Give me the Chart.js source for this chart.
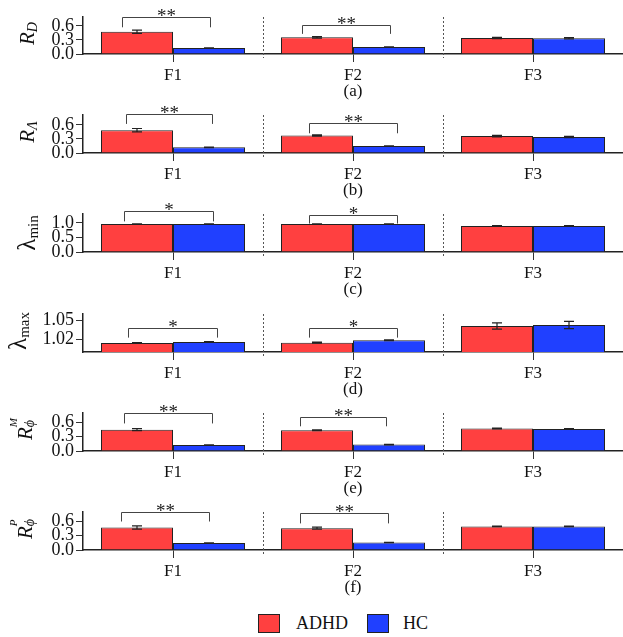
<!DOCTYPE html>
<html>
<head>
<meta charset="utf-8">
<script src="https://cdn.jsdelivr.net/npm/chart.js@4.4.1/dist/chart.umd.min.js"></script>
<style>
  html, body { margin: 0; padding: 0; background: #fff; }
  #wrap { position: relative; width: 623px; height: 637px; overflow: hidden; }
  #wrap canvas { position: absolute; left: 0; }
  .legend { position: absolute; top: 612px; font: 18px 'Liberation Serif', 'Times New Roman', serif; color: #111; }
  .box { position: absolute; width: 20px; height: 17px; border: 1px solid #222; }
  .lbl { position: absolute; top: 0; line-height: 22px; }
</style>
</head>
<body>
<div id="wrap">
  <div class="legend" style="left:258px"><div class="box" style="background:#ff4040;top:2px"></div><span class="lbl" style="left:38px">ADHD</span></div>
  <div class="legend" style="left:367px"><div class="box" style="background:#2040ff;top:2px"></div><span class="lbl" style="left:36px">HC</span></div>
</div>
<script>
const categories = ['F1', 'F2', 'F3'];
const groups = ['ADHD', 'HC'];

// (a) R_D
const rdAdhd = [0.474, 0.356, 0.342];
const rdHc = [0.126, 0.147, 0.335];
const rdAdhdErr = [0.035, 0.015, 0.015];
const rdHcErr = [0.004, 0.004, 0.015];
const rdTicks = [0, 0.3, 0.6];

// (b) R_Lambda
const rlAdhd = [0.487, 0.373, 0.36];
const rlHc = [0.12, 0.148, 0.34];
const rlAdhdErr = [0.035, 0.015, 0.015];
const rlHcErr = [0.004, 0.004, 0.015];
const rlTicks = [0, 0.3, 0.6];

// (c) lambda_min
const lminAdhd = [0.966, 0.966, 0.9];
const lminHc = [0.966, 0.966, 0.9];
const lminAdhdErr = [0.008, 0.008, 0.006];
const lminHcErr = [0.008, 0.008, 0.006];
const lminTicks = [0, 0.5, 1.0];

// (d) lambda_max
const lmaxAdhd = [1.0142, 1.0148, 1.041];
const lmaxHc = [1.0158, 1.0185, 1.0427];
const lmaxAdhdErr = [0.0008, 0.0008, 0.005];
const lmaxHcErr = [0.0005, 0.0006, 0.0058];
const lmaxTicks = [1.02, 1.05];

// (e) R_phi^M
const rmAdhd = [0.45, 0.437, 0.473];
const rmHc = [0.127, 0.135, 0.465];
const rmAdhdErr = [0.02, 0.01, 0.008];
const rmHcErr = [0.004, 0.004, 0.008];
const rmTicks = [0, 0.3, 0.6];

// (f) R_phi^P
const rpAdhd = [0.475, 0.46, 0.496];
const rpHc = [0.146, 0.16, 0.496];
const rpAdhdErr = [0.035, 0.02, 0.006];
const rpHcErr = [0.004, 0.003, 0.006];
const rpTicks = [0, 0.3, 0.6];

// significance brackets: category, left/right offset (in category widths), top and leg end values
const rdBrackets = [[0, -0.283, 0.206, 0.78, 0.57, '**'], [1, -0.281, 0.208, 0.61, 0.43, '**']];
const rlBrackets = [[0, -0.26, 0.218, 0.826, 0.62, '**'], [1, -0.246, 0.245, 0.635, 0.42, '**']];
const lminBrackets = [[0, -0.272, 0.222, 1.40, 1.055, '*'], [1, -0.247, 0.247, 1.29, 0.98, '*']];
const lmaxBrackets = [[0, -0.25, 0.244, 1.0385, 1.0227, '*'], [1, -0.247, 0.247, 1.0385, 1.0227, '*']];
const rmBrackets = [[0, -0.272, 0.217, 0.79, 0.58, '**'], [1, -0.297, 0.185, 0.72, 0.52, '**']];
const rpBrackets = [[0, -0.289, 0.2, 0.80, 0.60, '**'], [1, -0.292, 0.192, 0.77, 0.56, '**']];

const serif = "'Liberation Serif', 'Times New Roman', serif";
const red = '#ff4040';
const blue = '#2040ff';
const PAD = 24;
const XH = 48;

const panels = [
  { title: '(a)', adhd: rdAdhd, hc: rdHc, adhdErr: rdAdhdErr, hcErr: rdHcErr, min: 0, max: 0.79, ticks: rdTicks, digits: 1, brackets: rdBrackets, top: 17, base: 54, labelX: 34, labelDy: -2,
    label: [['R', 'italic 21px ' + serif, 0], ['D', 'italic 14px ' + serif, 3]] },
  { title: '(b)', adhd: rlAdhd, hc: rlHc, adhdErr: rlAdhdErr, hcErr: rlHcErr, min: 0, max: 0.81, ticks: rlTicks, digits: 1, brackets: rlBrackets, top: 115, base: 153, labelX: 34, labelDy: -2,
    label: [['R', 'italic 21px ' + serif, 0], ['Λ', 'italic 14px ' + serif, 3]] },
  { title: '(c)', adhd: lminAdhd, hc: lminHc, adhdErr: lminAdhdErr, hcErr: lminHcErr, min: 0, max: 1.31, ticks: lminTicks, digits: 1, brackets: lminBrackets, top: 214, base: 252, labelX: 35, labelDy: 0,
    label: [['λ', '25px ' + serif, 0], ['min', '15px ' + serif, 3]] },
  { title: '(d)', adhd: lmaxAdhd, hc: lmaxHc, adhdErr: lmaxAdhdErr, hcErr: lmaxHcErr, min: 1.0, max: 1.06, ticks: lmaxTicks, digits: 2, brackets: lmaxBrackets, top: 314, base: 352, labelX: 26, labelDy: -2,
    label: [['λ', '25px ' + serif, 0], ['max', '15px ' + serif, 3]] },
  { title: '(e)', adhd: rmAdhd, hc: rmHc, adhdErr: rmAdhdErr, hcErr: rmHcErr, min: 0, max: 0.80, ticks: rmTicks, digits: 1, brackets: rmBrackets, top: 413, base: 451, labelX: 32, labelDy: -2,
    label: [['R', 'italic 21px ' + serif, 0], ['M', 'italic 11px ' + serif, -15, true], ['ϕ', 'italic 14px ' + serif, 2]] },
  { title: '(f)', adhd: rpAdhd, hc: rpHc, adhdErr: rpAdhdErr, hcErr: rpHcErr, min: 0, max: 0.80, ticks: rpTicks, digits: 1, brackets: rpBrackets, top: 512, base: 550, labelX: 32, labelDy: -2,
    label: [['R', 'italic 21px ' + serif, 0], ['P', 'italic 11px ' + serif, -15, true], ['ϕ', 'italic 14px ' + serif, 2]] },
];

function drawYLabel(ctx, parts, bx, cy) {
  ctx.save();
  ctx.translate(bx, cy);
  ctx.rotate(-Math.PI / 2);
  ctx.fillStyle = '#111';
  ctx.textBaseline = 'alphabetic';
  ctx.textAlign = 'left';
  let total = 0;
  parts.forEach(p => { ctx.font = p[1]; if (!p[3]) total += ctx.measureText(p[0]).width; });
  let pos = -total / 2;
  parts.forEach(p => {
    ctx.font = p[1];
    ctx.fillText(p[0], pos, p[2]);
    if (!p[3]) pos += ctx.measureText(p[0]).width;
  });
  ctx.restore();
}

const extras = {
  id: 'extras',
  afterDraw(chart) {
    const cfg = chart.options.plugins.extras;
    const { ctx, chartArea } = chart;
    const x = chart.scales.x, y = chart.scales.y;
    const catW = x.getPixelForValue(1) - x.getPixelForValue(0);
    ctx.save();

    // dotted separators between groups
    ctx.strokeStyle = '#555';
    ctx.lineWidth = 1;
    ctx.setLineDash([2, 2]);
    for (let i = 0; i < categories.length - 1; i++) {
      const px = Math.round((x.getPixelForValue(i) + x.getPixelForValue(i + 1)) / 2) + 0.5;
      ctx.beginPath();
      ctx.moveTo(px, chartArea.top);
      ctx.lineTo(px, chartArea.bottom + 4);
      ctx.stroke();
    }
    ctx.setLineDash([]);

    // error bars
    ctx.strokeStyle = '#222';
    ctx.lineWidth = 1.2;
    chart.data.datasets.forEach((ds, di) => {
      chart.getDatasetMeta(di).data.forEach((bar, i) => {
        const v = ds.data[i], e = ds.errors[i];
        const y0 = y.getPixelForValue(v - e), y1 = y.getPixelForValue(v + e);
        ctx.beginPath();
        ctx.moveTo(bar.x, y0); ctx.lineTo(bar.x, y1);
        ctx.moveTo(bar.x - 5, y0); ctx.lineTo(bar.x + 5, y0);
        ctx.moveTo(bar.x - 5, y1); ctx.lineTo(bar.x + 5, y1);
        ctx.stroke();
      });
    });

    // significance brackets
    ctx.strokeStyle = '#444';
    ctx.lineWidth = 1;
    ctx.fillStyle = '#222';
    ctx.font = '19px ' + serif;
    ctx.textAlign = 'center';
    ctx.textBaseline = 'alphabetic';
    cfg.brackets.forEach(b => {
      const cx = x.getPixelForValue(b[0]);
      const xl = Math.round(cx + b[1] * catW) + 0.5, xr = Math.round(cx + b[2] * catW) + 0.5;
      const yt = Math.round(y.getPixelForValue(b[3])) + 0.5, yl = y.getPixelForValue(b[4]);
      ctx.beginPath();
      ctx.moveTo(xl, yl); ctx.lineTo(xl, yt); ctx.lineTo(xr, yt); ctx.lineTo(xr, yl);
      ctx.stroke();
      ctx.fillText(b[5], (xl + xr) / 2, yt + 4);
    });

    drawYLabel(ctx, cfg.label, cfg.labelX, (chartArea.top + chartArea.bottom) / 2 + cfg.labelDy);
    ctx.restore();
  }
};

const wrap = document.getElementById('wrap');

panels.forEach(p => {
  const canvas = document.createElement('canvas');
  const h = PAD + (p.base - p.top) + XH;
  canvas.width = 623;
  canvas.height = h;
  canvas.style.top = (p.top - PAD) + 'px';
  wrap.appendChild(canvas);

  new Chart(canvas, {
    type: 'bar',
    data: {
      labels: categories,
      datasets: [
        { label: groups[0], data: p.adhd, errors: p.adhdErr, backgroundColor: red, borderColor: '#222', borderWidth: 1, base: p.min },
        { label: groups[1], data: p.hc, errors: p.hcErr, backgroundColor: blue, borderColor: '#222', borderWidth: 1, base: p.min },
      ],
    },
    options: {
      responsive: false,
      animation: false,
      devicePixelRatio: 1,
      categoryPercentage: 0.8,
      barPercentage: 1.0,
      layout: { padding: { top: PAD, left: 0, right: 0, bottom: 0 } },
      plugins: {
        legend: { display: false },
        tooltip: { enabled: false },
        extras: { brackets: p.brackets, label: p.label, labelX: p.labelX, labelDy: p.labelDy },
      },
      scales: {
        x: {
          grid: { display: true, drawOnChartArea: false, offset: false, tickLength: 8, color: '#333' },
          border: { display: true, color: '#222', width: 1.5 },
          ticks: { font: { family: serif, size: 17 }, color: '#111', padding: 3 },
          title: { display: true, text: p.title, font: { family: serif, size: 17 }, color: '#111', padding: 0 },
          afterFit: s => { s.height = XH; },
        },
        y: {
          min: p.min,
          max: p.max,
          afterBuildTicks: s => { s.ticks = p.ticks.map(v => ({ value: v })); },
          afterFit: s => { s.width = 83; },
          grid: { drawOnChartArea: false, tickLength: 7, color: '#333' },
          border: { color: '#222', width: 1.5 },
          ticks: { autoSkip: false, font: { family: serif, size: 18, lineHeight: 1 }, color: '#111', padding: 2, callback: v => Number(v).toFixed(p.digits) },
        },
      },
    },
    plugins: [extras],
  });
});
</script>
</body>
</html>
